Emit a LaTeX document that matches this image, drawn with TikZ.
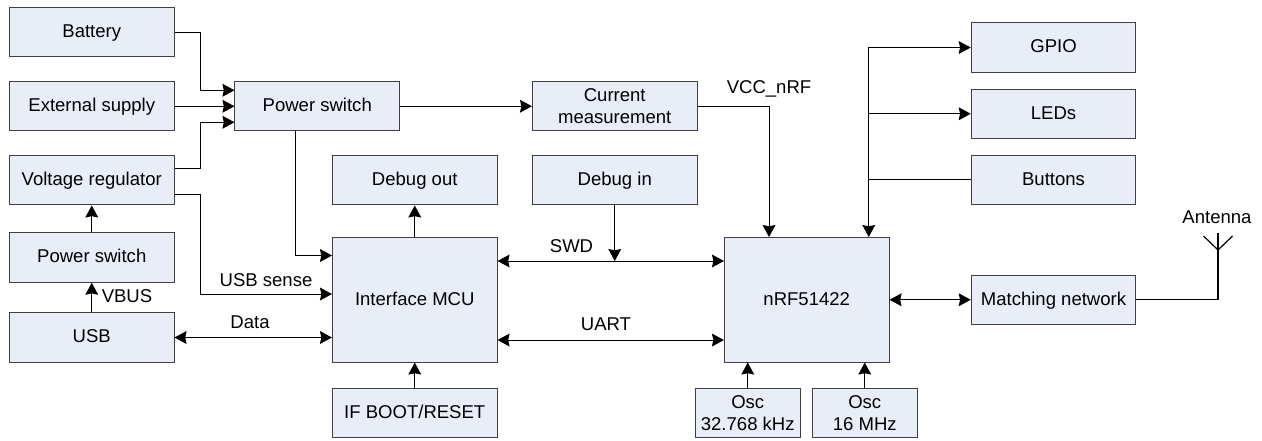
\documentclass[tikz,border=0pt]{standalone}
\usepackage{fontspec}
\setmainfont{Liberation Sans}
\usepackage{tikz}
\usetikzlibrary{arrows.meta}

\definecolor{boxfill}{HTML}{E8EDF8}
\definecolor{boxline}{HTML}{404040}

\begin{document}
\begin{tikzpicture}[x=0.75pt,y=-0.75pt,node distance=55.5pt,
			>={Stealth[length=9pt,width=9.6pt,inset=1pt]},
			line width=0.75pt,
			box node/.style={rectangle,fill=boxfill,draw=boxline,align=center,
				font=\fontsize{13.9}{16.5}\selectfont,inner sep=0pt,
				minimum width=123.4pt,minimum height=37.1pt},
			main node/.style={box node,text height=8pt,text depth=0pt},
			big node/.style={main node,minimum height=93.4pt},
			osc node/.style={box node,minimum width=79.1pt},
			text node/.style={font=\fontsize{13.9}{16.5}\selectfont,inner sep=0pt}]
			
			\useasboundingbox (0,0) rectangle (1262,440);
			
			\node[main node] (BAT) at (91.75,32.25) {Battery};
			\node[main node] (EXT) [below of=BAT] {External supply};
			\node[main node] (REG) [below of=EXT] {Voltage regulator};
			\node[main node] (SWB) at (91.75,257.5) {Power switch};
			\node[main node] (USB) at (91.75,337.5) {USB};
			
			\node[main node] (SWA) at (317.25,106.25) {Power switch};
			\node[main node] (DBO) at (414.75,180.25) {Debug out};
			\node[big node] (MCU) at (414.75,299.75) {Interface MCU};
			\node[main node] (IFB) at (414.75,412.75) {IF BOOT/RESET};
			
			\node[box node] (CUR) at (614.75,106.25) {Current\\measurement};
			\node[main node] (DBI) [below of=CUR] {Debug in};
			\node[big node] (NRF) at (806.75,299.75) {nRF51422};
			\node[osc node] (OSA) at (747.75,412.75) {Osc\\32.768 kHz};
			\node[osc node] (OSB) at (864.75,412.75) {Osc\\16 MHz};
			
			\node[main node] (GPI) at (1053.5,47.5) {GPIO};
			\node[main node] (LED) at (1053.5,113.75) {LEDs};
			\node[main node] (BTN) at (1053.5,179.75) {Buttons};
			\node[main node] (MAT) at (1053.5,299.75) {Matching network};
			
			\node[text node] (VCC) at (769,89) {VCC\_nRF};
			\node[text node] (SWD) at (571.5,246.5) {SWD};
			\node[text node] (UAR) at (606,324) {UART};
			\node[text node] (DAT) at (250,322) {Data};
			\node[text node] (SEN) at (266,280) {USB sense};
			\node[text node] (VBU) at (127,296) {VBUS};
			\node[text node] (ANT) at (1217,217) {Antenna};
			
			\coordinate (K) at (614.75,261);
			\coordinate (Y) at (1218,250);
			
			\draw[->] (BAT.east) -- ++(26,0) |- ([yshift=12pt]SWA.west);
			\draw[->] (EXT) -- (SWA);
			\draw[->] ([yshift=8.5pt]REG.east) -- ++(26,0) |- ([yshift=-12pt]SWA.west);
			\draw[->] ([yshift=-11pt]REG.east) -- ++(26,0) |- ([yshift=4.3pt]MCU.west);
			\draw[->] (SWB) -- (REG);
			\draw[->] (USB) -- (SWB);
			\draw[<->] (USB) -- (USB -| MCU.west);
			\draw[->] ([xshift=-16.3pt]SWA.south) |- ([yshift=33.2pt]MCU.west);
			\draw[->] (MCU) -- (DBO);
			\draw[->] (IFB) -- (MCU);
			\draw[->] (SWA) -- (CUR);
			\draw[<->] (K -| MCU.east) -- (K -| NRF.west);
			\draw[<->] ([yshift=-30.2pt]MCU.east) -- ([yshift=-30.2pt]NRF.west);
			\draw[->] (DBI) -- (K);
			\draw[->] (CUR.east) -| ([xshift=-28.3pt]NRF.north);
			\draw[->] (OSA) -- (OSA |- NRF.south);
			\draw[->] (OSB) -- (OSB |- NRF.south);
			\draw[<->] (GPI.west) -| ([xshift=46.5pt]NRF.north);
			\draw[->] (LED.west -| GPI.west) ++(-76.8pt,0) -- (LED.west);
			\draw[line width=1pt] (BTN.west) -| ([xshift=46.5pt,yshift=6pt]NRF.north);
			\draw[<->] (NRF) -- (MAT);
			\draw[line width=1.1pt] (MAT.east) -| (Y) -- ++(0,-17);
			\draw[line width=0.9pt] (Y) -- ++(-14.5,-14);
			\draw[line width=0.9pt] (Y) -- ++(14.5,-14);
			
		\end{tikzpicture}
\end{document}
